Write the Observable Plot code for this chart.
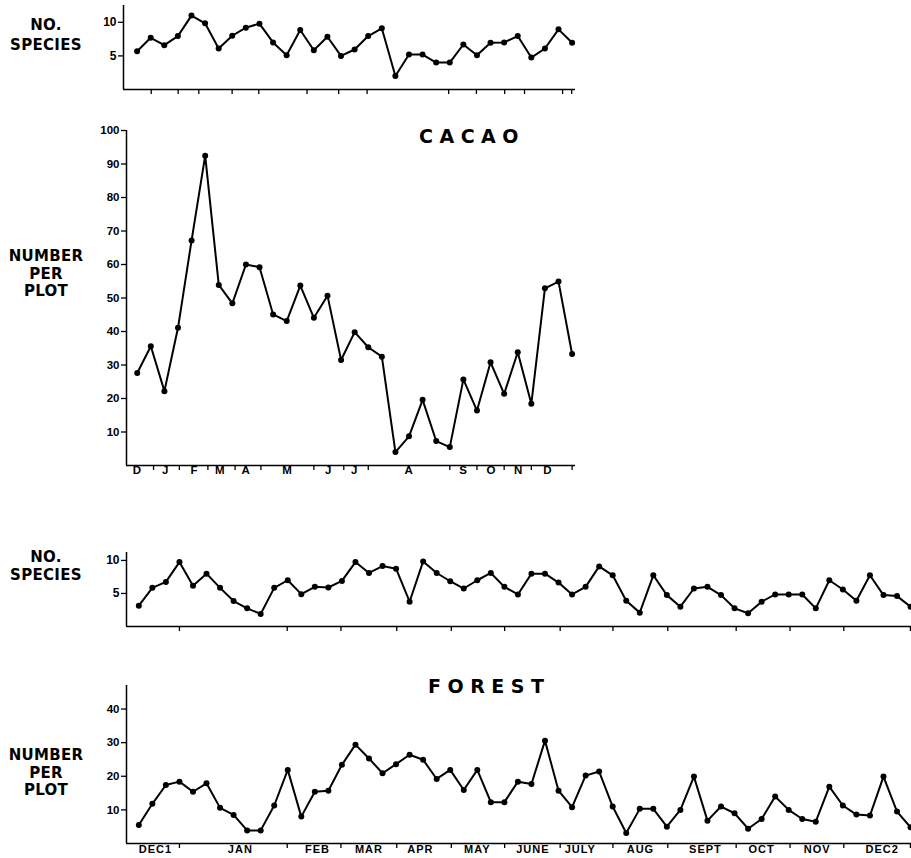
<!DOCTYPE html>
<html><head><meta charset="utf-8">
<script src="https://cdn.jsdelivr.net/npm/d3@7"></script>
<script src="https://cdn.jsdelivr.net/npm/@observablehq/plot@0.6"></script>
<style>
body{margin:0;background:#fff;}
#root{position:relative;width:911px;height:858px;overflow:hidden;font-family:"DejaVu Sans",sans-serif;color:#000;}
#root svg{position:absolute;left:0;}
.lab{position:absolute;left:0;width:92px;font-weight:bold;font-size:15px;text-align:center;letter-spacing:0.3px;}
.title{position:absolute;font-weight:bold;font-size:19px;line-height:19px;letter-spacing:6.5px;}
</style>
</head><body>
<div id="root">
  <div class="lab" style="top:15px;line-height:20px;">NO.<br>SPECIES</div>
  <div class="lab" style="top:248px;line-height:17.5px;">NUMBER<br>PER<br>PLOT</div>
  <div class="title" style="left:419px;top:127px;">CACAO</div>
  <div class="lab" style="top:548px;line-height:18px;">NO.<br>SPECIES</div>
  <div class="lab" style="top:747px;line-height:17.5px;">NUMBER<br>PER<br>PLOT</div>
  <div class="title" style="left:428px;top:677px;">FOREST</div>
</div>
<script>
// ---- data ----
const cacaoSpecies = [5.7, 7.7, 6.6, 7.95, 11.0, 9.85, 6.1, 8.0, 9.2, 9.8, 7.0, 5.1, 8.85, 5.85, 7.85, 5.0, 5.95, 7.95, 9.1, 2.0, 5.2, 5.2, 4.0, 4.0, 6.7, 5.1, 6.95, 7.0, 7.95, 4.75, 6.1, 8.95, 6.95];
const cacaoNumber = [27.6, 35.6, 22.2, 41.1, 67.2, 92.5, 53.9, 48.4, 60.0, 59.2, 45.1, 43.1, 53.7, 44.1, 50.7, 31.5, 39.8, 35.3, 32.5, 4.0, 8.7, 19.6, 7.3, 5.5, 25.7, 16.4, 30.8, 21.4, 33.8, 18.4, 52.9, 54.9, 33.3];
const cacaoMonths = ["D", "J", "F", "M", "A", "M", "J", "J", "A", "S", "O", "N", "D"];
const cacaoMonthPos = [1.0, 3.08, 5.2, 7.1, 9.0, 12.05, 15.07, 16.98, 21.0, 25.0, 27.05, 29.04, 31.2];
const cacaoTicks = [2.2, 4.1, 6.2, 8.2, 10.1, 14.0, 16.2, 18.0, 24.0, 26.0, 28.0, 30.0, 33.0];
const cacaoSpeciesTicks = [2.04, 4.02, 5.54, 7.99, 9.95, 13.5, 15.83, 17.92, 23.92, 25.96, 28.04, 29.5, 32.3, 32.97];

const forestSpecies = [3.15, 5.85, 6.75, 9.75, 6.15, 8.0, 5.85, 3.85, 2.75, 1.9, 5.85, 7.0, 4.9, 6.0, 5.9, 6.9, 9.75, 8.1, 9.15, 8.75, 3.75, 9.85, 8.1, 6.85, 5.75, 7.0, 8.1, 6.0, 4.85, 8.0, 8.0, 6.65, 4.85, 6.0, 9.1, 7.75, 3.9, 2.1, 7.75, 4.75, 3.0, 5.75, 6.0, 4.75, 2.75, 2.0, 3.75, 4.85, 4.85, 4.85, 2.75, 7.0, 5.6, 3.9, 7.75, 4.75, 4.6, 3.0];
const forestNumber = [5.5, 11.8, 17.4, 18.4, 15.4, 17.9, 10.6, 8.5, 3.9, 3.9, 11.3, 21.9, 8.0, 15.4, 15.7, 23.4, 29.4, 25.3, 20.9, 23.6, 26.4, 24.9, 19.2, 21.9, 15.9, 21.9, 12.3, 12.3, 18.4, 17.7, 30.6, 15.7, 10.8, 20.2, 21.4, 11.0, 3.1, 10.3, 10.3, 5.0, 10.0, 19.9, 6.8, 11.0, 9.0, 4.4, 7.3, 14.0, 10.0, 7.3, 6.5, 16.9, 11.3, 8.6, 8.3, 19.9, 9.5, 4.8];
const forestMonths = ["DEC1", "JAN", "FEB", "MAR", "APR", "MAY", "JUNE", "JULY", "AUG", "SEPT", "OCT", "NOV", "DEC2"];
const forestMonthPos = [2.23, 8.5, 14.2, 18.0, 21.8, 26.0, 30.1, 33.6, 38.05, 42.85, 47.0, 51.1, 55.9];
const forestTicks = [4.0, 11.96, 15.93, 20.05, 24.08, 28.02, 32.12, 36.02, 40.07, 45.12, 49.1, 53.07, 57.99];

const speciesYTicks = [5, 10];
const cacaoYTicks = [10, 20, 30, 40, 50, 60, 70, 80, 90, 100];
const forestYTicks = [10, 20, 30, 40];

// ---- drawing ----
const root = document.getElementById("root");
const baseStyle = {fontFamily: "'Liberation Sans', Arial, sans-serif", fontWeight: "bold", fontSize: "11.5px", background: "transparent", color: "black"};

function panel(o) {
  const marks = [
    Plot.ruleY([o.yDomain[0]], {strokeWidth: 1.5}),
    Plot.ruleX([o.xDomain[0]], {strokeWidth: 1.5}),
    Plot.axisY({ticks: o.yTicks, tickSize: 5, tickPadding: 2, fontSize: o.yFont, strokeWidth: 1.3}),
    Plot.axisX({ticks: o.xTicks, tickSize: 5, tickFormat: () => "", strokeWidth: 1.3}),
    Plot.line(o.values, {x: (d, i) => i + 1, y: d => d, stroke: "black", strokeWidth: 2}),
    Plot.dot(o.values, {x: (d, i) => i + 1, y: d => d, r: 3, fill: "black"})
  ];
  if (o.months) {
    marks.push(Plot.text(o.months, {x: (d, i) => o.monthPos[i], text: d => d, frameAnchor: "bottom", dy: o.monthDy, fontSize: o.monthFont, fontWeight: "bold"}));
  }
  const svg = Plot.plot({
    width: o.width, height: o.height,
    marginLeft: o.ml, marginRight: o.mr, marginTop: o.mt, marginBottom: o.mb,
    x: {domain: o.xDomain},
    y: {domain: o.yDomain},
    style: baseStyle,
    marks
  });
  svg.style.top = o.top + "px";
  if (o.months) d3.select(svg).selectAll('g[aria-label="text"] text').attr("letter-spacing", o.monthSpacing);
  root.appendChild(svg);
}

panel({values: cacaoSpecies, top: 0, width: 580, height: 101, ml: 123, mr: 5, mt: 5, mb: 12,
  xDomain: [0, 33.25], yDomain: [0, 12.5], yTicks: speciesYTicks, xTicks: cacaoSpeciesTicks, yFont: 12});

panel({values: cacaoNumber, top: 120, width: 580, height: 370, ml: 126, mr: 5, mt: 10, mb: 25,
  xDomain: [0.21, 33.25], yDomain: [0, 100], yTicks: cacaoYTicks, xTicks: cacaoTicks, yFont: 11.5,
  months: cacaoMonths, monthPos: cacaoMonthPos, monthDy: 8.5, monthFont: 11.5, monthSpacing: "0.5px"});

panel({values: forestSpecies, top: 540, width: 911, height: 98, ml: 126, mr: 0, mt: 12, mb: 12,
  xDomain: [0.09, 58.07], yDomain: [0, 11.2], yTicks: speciesYTicks, xTicks: forestTicks, yFont: 12});

panel({values: forestNumber, top: 670, width: 911, height: 188, ml: 126, mr: 0, mt: 15, mb: 15,
  xDomain: [0.09, 58.07], yDomain: [0, 47], yTicks: forestYTicks, xTicks: forestTicks, yFont: 11.5,
  months: forestMonths, monthPos: forestMonthPos, monthDy: 9, monthFont: 11, monthSpacing: "1px"});
</script>
</body></html>
